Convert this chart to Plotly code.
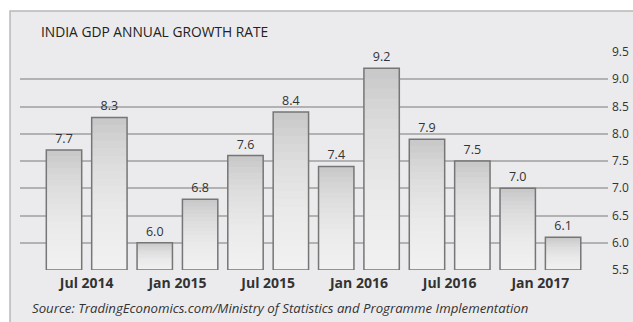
import plotly.graph_objects as go

# Data
quarters = ["Q2 2014", "Q3 2014", "Q4 2014", "Q1 2015", "Q2 2015", "Q3 2015",
            "Q4 2015", "Q1 2016", "Q2 2016", "Q3 2016", "Q4 2016", "Q1 2017"]
growth = [7.7, 8.3, 6.0, 6.8, 7.6, 8.4, 7.4, 9.2, 7.9, 7.5, 7.0, 6.1]
tick_positions = [0.5, 2.5, 4.5, 6.5, 8.5, 10.5]
tick_labels = ["Jul 2014", "Jan 2015", "Jul 2015", "Jan 2016", "Jul 2016", "Jan 2017"]
y_ticks = [5.5, 6.0, 6.5, 7.0, 7.5, 8.0, 8.5, 9.0, 9.5]

BASE = 5.5
W = 0.78
xs = list(range(len(growth)))
FONT = "Open Sans"

fig = go.Figure()

# base fill (darker top colour)
fig.add_trace(go.Bar(x=xs, y=[v - BASE for v in growth], base=BASE, width=W,
                     marker=dict(color="#c4c4c6", line=dict(width=0)),
                     hoverinfo="skip", showlegend=False))

# gradient overlays: white translucent layers, lighter toward the bottom
N = 20
for k in range(1, N + 1):
    frac = k / N
    fig.add_trace(go.Bar(x=xs, y=[(v - BASE) * frac for v in growth], base=BASE, width=W,
                         marker=dict(color="rgba(255,255,255,0.085)", line=dict(width=0)),
                         hoverinfo="skip", showlegend=False))

# outline + labels
fig.add_trace(go.Bar(x=xs, y=[v - BASE for v in growth], base=BASE, width=W,
                     marker=dict(color="rgba(0,0,0,0)", line=dict(color="#767676", width=1.5)),
                     text=[f"{v:.1f}" for v in growth], textposition="outside",
                     textfont=dict(family=FONT, size=12.5, color="#333333"),
                     cliponaxis=False, customdata=quarters,
                     hovertemplate="%{customdata}: %{text}<extra></extra>",
                     showlegend=False))

fig.update_layout(
    width=633, height=322,
    margin=dict(l=20, r=25, t=52, b=52),
    paper_bgcolor="white",
    plot_bgcolor="rgba(0,0,0,0)",
    barmode="overlay",
    font=dict(family=FONT, color="#333333"),
    xaxis=dict(range=[-0.97, 11.99], tickvals=tick_positions, ticktext=tick_labels,
               showgrid=False, zeroline=False, showline=False, ticks="",
               tickfont=dict(family=FONT, size=14, color="#333333", weight="bold"),
               ticklabelstandoff=3, automargin=False),
    yaxis=dict(range=[5.5, 9.5], side="right", tickvals=y_ticks, tickformat=".1f",
               showgrid=True, gridcolor="#b2b2b2", gridwidth=1.5,
               zeroline=False, showline=False, ticks="",
               tickfont=dict(family=FONT, size=12, color="#333333"),
               ticklabelstandoff=3, automargin=False),
    shapes=[dict(type="rect", xref="paper", yref="paper", layer="below",
                 x0=-0.017, x1=1.08, y0=-0.3, y1=1.188,
                 fillcolor="#ebebed", line=dict(color="#b8b8b8", width=1.5))],
    annotations=[
        dict(text="INDIA GDP ANNUAL GROWTH RATE", xref="paper", yref="paper",
             x=0.0323, y=1.092, xanchor="left", yanchor="middle", showarrow=False,
             font=dict(family=FONT, size=13.8, color="#222222")),
        dict(text="<i>Source: TradingEconomics.com/Ministry of Statistics and Programme Implementation</i>",
             xref="paper", yref="paper", x=0.017, y=-0.174, xanchor="left", yanchor="middle",
             showarrow=False, font=dict(family=FONT, size=13.2, color="#333333")),
    ],
)

fig.write_html("out.html")
